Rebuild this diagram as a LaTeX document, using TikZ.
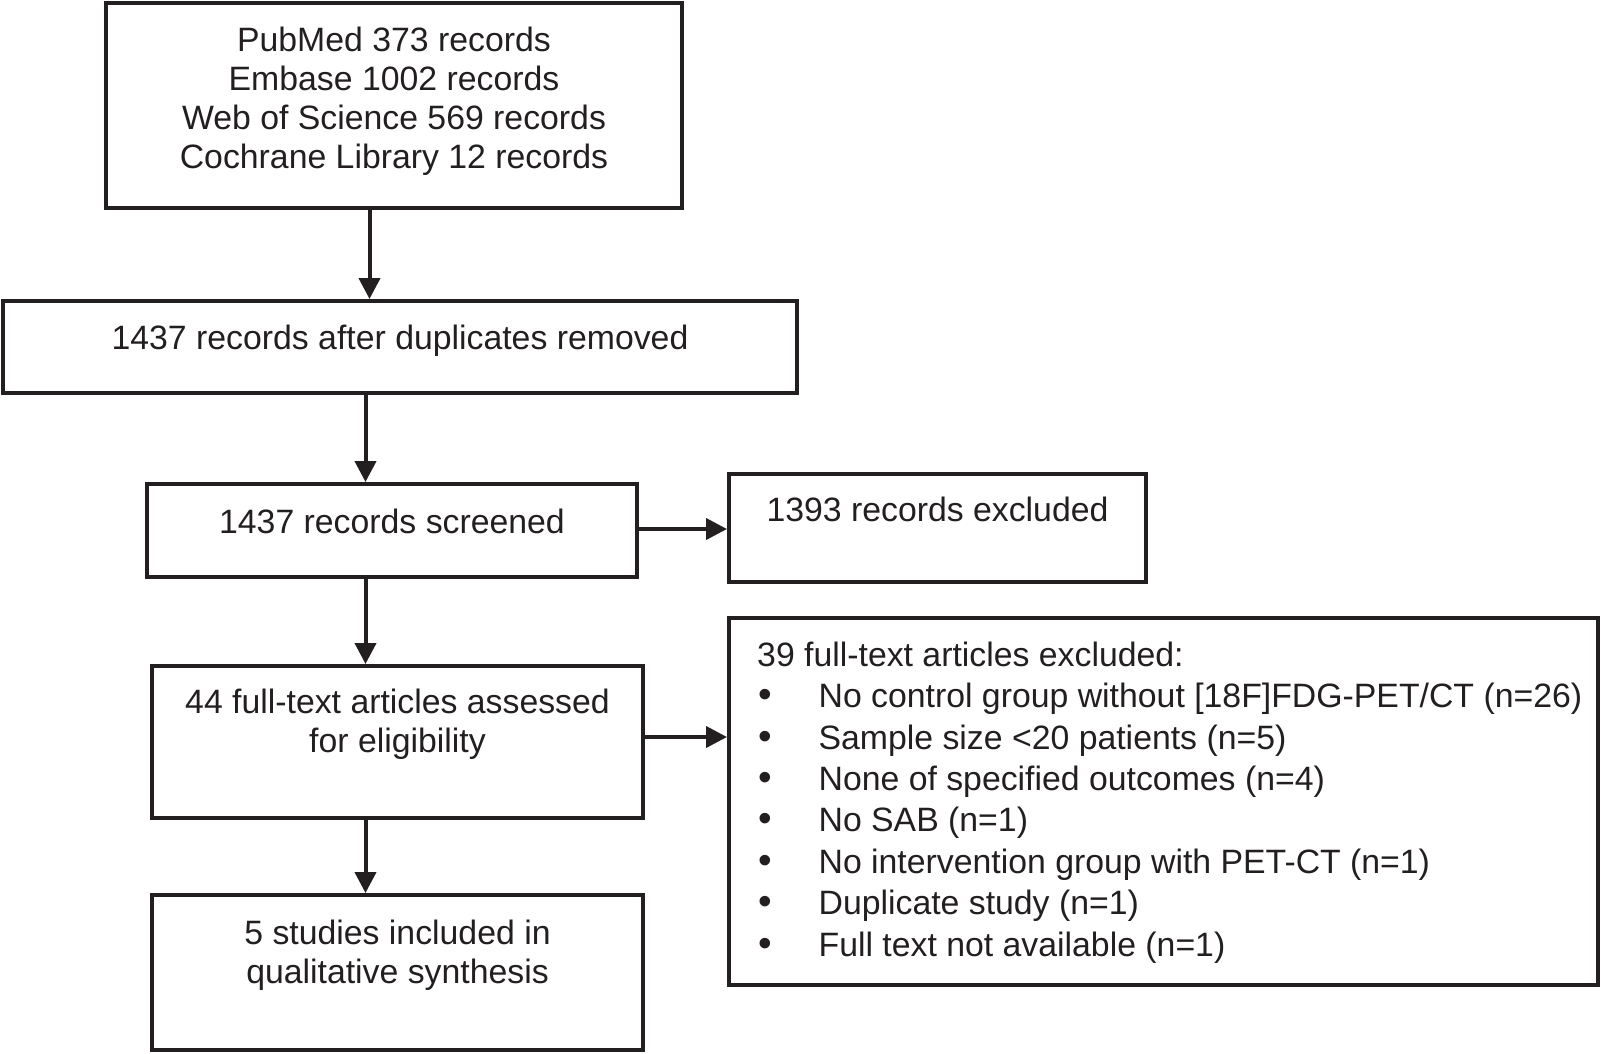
\documentclass[tikz,border=0pt]{standalone}
\usepackage{fontspec}
\setmainfont{Liberation Sans}
\usetikzlibrary{positioning,arrows.meta}
\definecolor{ink}{RGB}{35,31,32}
\newcommand{\bul}{\makebox[61.4pt][l]{\hspace{1pt}\scalebox{1.15}{\textbullet}}}

\begin{document}
\begin{tikzpicture}[x=1pt,y=-1pt,
  box/.style={draw=ink,line width=4pt,inner sep=0pt},
  txt/.style={inner sep=0pt,align=center,text=ink,font=\fontsize{33.8pt}{39pt}\selectfont},
  arr/.style={draw=ink,line width=4pt,-{Triangle[length=21pt,width=21pt]}}]
\useasboundingbox (0,0) rectangle (1601,1053);
% boxes, left column
\node[box,minimum width=576pt,minimum height=205pt] (src) at (394,105.5) {};
\node[txt,below=25.5pt of src.north] (srctxt) {PubMed 373 records\\Embase 1002 records\\Web of Science 569 records\\Cochrane Library 12 records};
\node[box,minimum width=794pt,minimum height=92pt] (dedup) at (400,347) {};
\node[txt,below=25.5pt of dedup.north] (deduptxt) {1437 records after duplicates removed};
\node[box,minimum width=490pt,minimum height=93pt] (screen) at (392,530.5) {};
\node[txt,below=26.5pt of screen.north] (screentxt) {1437 records screened};
\node[box,minimum width=491pt,minimum height=152pt] (full) at (397.5,742) {};
\node[txt,below=24.5pt of full.north] (fulltxt) {44 full-text articles assessed\\for eligibility};
\node[box,minimum width=491pt,minimum height=155pt] (incl) at (397.5,972.5) {};
\node[txt,below=26.5pt of incl.north] (incltxt) {5 studies included in\\qualitative synthesis};
% boxes, right column
\node[box,minimum width=417pt,minimum height=108pt] (excl) at (937.5,528) {};
\node[txt,below=24.5pt of excl.north] (excltxt) {1393 records excluded};
\node[box,minimum width=869pt,minimum height=367pt] (exclft) at (1163.5,801.5) {};
\node[txt,align=left,font=\fontsize{33.8pt}{41.4pt}\selectfont,below right=25.5pt and 30pt of exclft.north west] (exclfttxt)
  {39 full-text articles excluded:\\
   \bul No control group without [18F]FDG-PET/CT (n=26)\\
   \bul Sample size <20 patients (n=5)\\
   \bul None of specified outcomes (n=4)\\
   \bul No SAB (n=1)\\
   \bul No intervention group with PET-CT (n=1)\\
   \bul Duplicate study (n=1)\\
   \bul Full text not available (n=1)};
% arrows down the left column
\foreach \a/\b/\s in {src/dedup/-24.5, dedup/screen/-34.5, screen/full/-26.5, full/incl/-32}
\draw[arr] ([xshift=\s pt]\a.south) -- ([xshift=\s pt]\a.south |- \b.north);
% arrows to the right
\draw[arr] ([yshift=1.5pt]screen.east) -- ([yshift=1.5pt]screen.east -| excl.west);
\draw[arr] ([yshift=5pt]full.east) -- ([yshift=5pt]full.east -| exclft.west);
\end{tikzpicture}
\end{document}
